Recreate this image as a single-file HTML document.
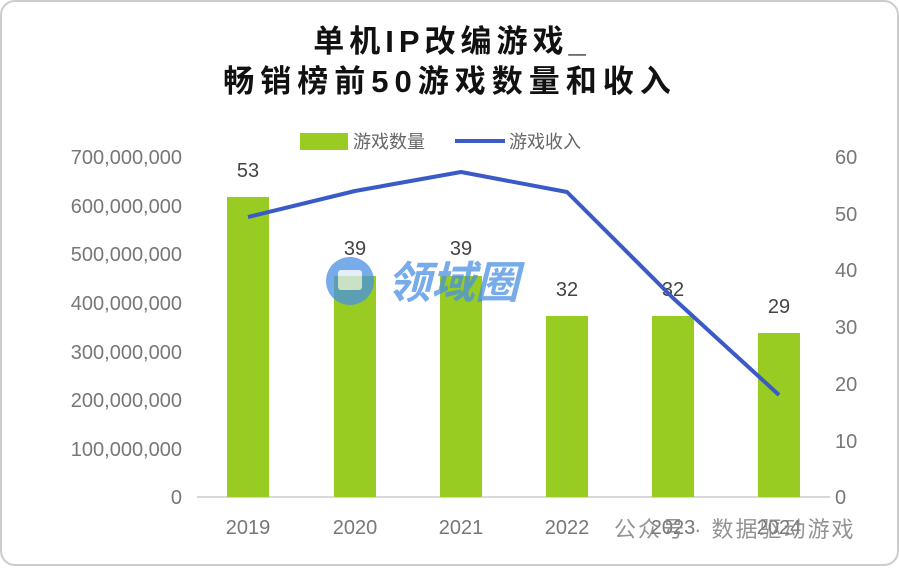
<!DOCTYPE html>
<html><head><meta charset="utf-8"><style>
html,body{margin:0;padding:0;background:#fff;}
body{width:899px;height:566px;overflow:hidden;font-family:"Liberation Sans","Noto Sans CJK SC",sans-serif;}
</style></head><body>
<svg width="899" height="566" viewBox="0 0 899 566" xmlns="http://www.w3.org/2000/svg" style="font-family:'Liberation Sans','Noto Sans CJK SC',sans-serif">
<rect x="1" y="1" width="897" height="564" rx="14" fill="#fff" stroke="#ccc" stroke-width="2"/>
<text x="452" y="52" font-size="31" font-weight="bold" text-anchor="middle" fill="#111" letter-spacing="5">单机IP改编游戏_</text>
<text x="450" y="92" font-size="31" font-weight="bold" text-anchor="middle" fill="#111" letter-spacing="6">畅销榜前50游戏数量和收入</text>
<rect x="300" y="133" width="48" height="17" fill="#99cc22"/>
<text x="353" y="148" font-size="18" fill="#666">游戏数量</text>
<line x1="455" y1="141" x2="505" y2="141" stroke="#3a5bc7" stroke-width="4"/>
<text x="509" y="148" font-size="18" fill="#666">游戏收入</text>
<g font-size="20" fill="#777" text-anchor="end">
<text x="182" y="164">700,000,000</text><text x="182" y="213">600,000,000</text>
<text x="182" y="261">500,000,000</text><text x="182" y="310">400,000,000</text>
<text x="182" y="359">300,000,000</text><text x="182" y="407">200,000,000</text>
<text x="182" y="456">100,000,000</text><text x="182" y="504">0</text>
</g>
<g font-size="20" fill="#777">
<text x="835" y="164">60</text><text x="835" y="221">50</text><text x="835" y="277">40</text>
<text x="835" y="334">30</text><text x="835" y="391">20</text><text x="835" y="448">10</text><text x="835" y="504">0</text>
</g>
<line x1="197" y1="497" x2="830" y2="497" stroke="#ccc" stroke-width="1.5"/>
<g fill="#99cc22">
<rect x="227" y="197" width="42" height="300"/>
<rect x="334" y="276" width="42" height="221"/>
<rect x="440" y="276" width="42" height="221"/>
<rect x="546" y="316" width="42" height="181"/>
<rect x="652" y="316" width="42" height="181"/>
<rect x="758" y="333" width="42" height="164"/>
</g>
<g font-size="20" fill="#444" text-anchor="middle">
<text x="248" y="177">53</text><text x="355" y="255">39</text><text x="461" y="255">39</text>
<text x="567" y="296">32</text><text x="673" y="296">32</text><text x="779" y="313">29</text>
</g>
<polyline points="248,217 355,191 461,172 567,192 673,298 779,395" fill="none" stroke="#3a5bc7" stroke-width="4" stroke-linejoin="round"/>
<g font-size="20" fill="#777" text-anchor="middle">
<text x="248" y="534">2019</text><text x="355" y="534">2020</text><text x="461" y="534">2021</text>
<text x="567" y="534">2022</text><text x="673" y="534">2023</text><text x="779" y="534">2024</text>
</g>
<g opacity="0.75">
<circle cx="350" cy="281" r="24" fill="#4a90e2"/>
<rect x="338" y="270" width="24" height="20" rx="3" fill="#fff" opacity="0.8"/>
<text x="387" y="298" font-size="44" font-weight="bold" fill="#4a90e2" font-style="italic">领域圈</text>
</g>
<text x="614" y="537" font-size="22" fill="#888" opacity="0.9" letter-spacing="2">公众号 · 数据驱动游戏</text>
</svg>
</body></html>
